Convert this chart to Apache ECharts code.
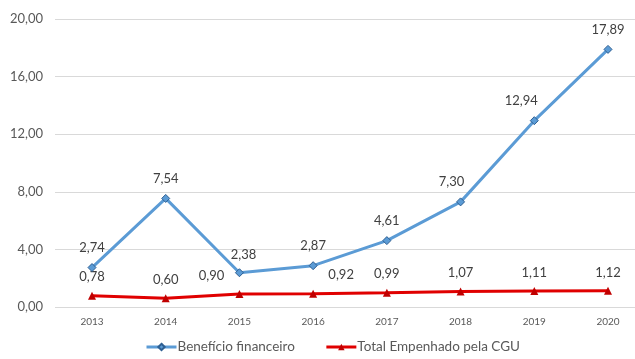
<!DOCTYPE html>
<html>
<head>
<meta charset="utf-8">
<script src="https://cdn.jsdelivr.net/npm/echarts@6/dist/echarts.min.js"></script>
<style>html,body{margin:0;padding:0;background:#fff}#c{width:635px;height:359px}</style>
</head>
<body>
<div id="c"></div>
<script>
var categories = ['2013','2014','2015','2016','2017','2018','2019','2020'];
var beneficio = [2.74, 7.54, 2.38, 2.87, 4.61, 7.30, 12.94, 17.89];
var empenhado = [0.78, 0.60, 0.90, 0.92, 0.99, 1.07, 1.11, 1.12];
var yTicks = [0, 4, 8, 12, 16, 20];
var seriesNames = ['Benefício financeiro', 'Total Empenhado pela CGU'];

var FONT = 'Lato';
function fmt(v){ return v.toFixed(2).replace('.', ','); }

var blueOffsets = {2:[4,2], 5:[-9,0], 6:[-13,0]};
var redOffsets = {2:[-28,0], 3:[28,0]};

var chart = echarts.init(document.getElementById('c'));
chart.setOption({
  animation: false,
  backgroundColor: '#ffffff',
  textStyle: {fontFamily: FONT},
  legend: {
    bottom: 0,
    left: 140,
    itemWidth: 30,
    itemHeight: 8,
    itemGap: 30,
    lineStyle: {width: 3},
    textStyle: {fontFamily: FONT, fontSize: 13.5, color: '#595959', padding:[0,0,0,-4]},
    data: seriesNames
  },
  grid: [
    {left: 55, right: 0, top: 19, bottom: 52},
    {left: 92, right: 27, top: 19, bottom: 52}
  ],
  xAxis: [
    {gridIndex: 0, type: 'category', data: categories, show: false},
    {gridIndex: 1, type: 'category', data: categories, boundaryGap: false,
     axisLine: {show: false}, axisTick: {show: false},
     axisLabel: {fontFamily: FONT, fontSize: 10, color: '#595959', margin: 10}}
  ],
  yAxis: [
    {gridIndex: 0, type: 'value', min: yTicks[0], max: yTicks[yTicks.length-1], interval: yTicks[1]-yTicks[0],
     axisLine: {show: false}, axisTick: {show: false},
     axisLabel: {fontFamily: FONT, fontSize: 13, color: '#595959', margin: 12, formatter: function(v){ return fmt(v); }},
     splitLine: {lineStyle: {color: '#d9d9d9', width: 1}}},
    {gridIndex: 1, type: 'value', min: yTicks[0], max: yTicks[yTicks.length-1], interval: yTicks[1]-yTicks[0], show: false,
     splitLine: {show: false}}
  ],
  series: [
    {
      name: seriesNames[0], type: 'line', xAxisIndex: 1, yAxisIndex: 1,
      data: beneficio.map(function(v, i){
        var d = {value: v};
        if (blueOffsets[i]) d.label = {offset: blueOffsets[i]};
        return d;
      }),
      symbol: 'diamond', symbolSize: 8,
      lineStyle: {color: '#5b9bd5', width: 3},
      itemStyle: {color: '#5b9bd5', borderColor: '#2e5f92', borderWidth: 1},
      label: {show: true, position: 'top', distance: 9, fontFamily: FONT, fontSize: 13, color: '#404040',
              formatter: function(p){ return fmt(p.value); }},
      z: 3
    },
    {
      name: seriesNames[1], type: 'line', xAxisIndex: 1, yAxisIndex: 1,
      data: empenhado.map(function(v, i){
        var d = {value: v};
        if (redOffsets[i]) d.label = {offset: redOffsets[i]};
        return d;
      }),
      symbol: 'triangle', symbolSize: 8,
      lineStyle: {color: '#e00000', width: 3},
      itemStyle: {color: '#c00000', borderColor: '#c00000', borderWidth: 0},
      label: {show: true, position: 'top', distance: 8, fontFamily: FONT, fontSize: 13, color: '#404040',
              formatter: function(p){ return fmt(p.value); }},
      z: 2
    }
  ]
});
</script>
</body>
</html>
